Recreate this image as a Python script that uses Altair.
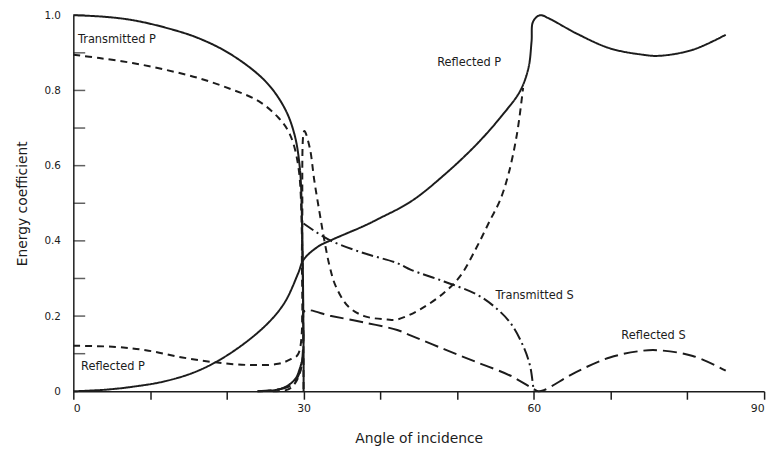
import altair as alt
import pandas as pd

# ---- data ----
tp_solid_x = [0, 4, 7.7, 12, 16.3, 20.6, 25, 27.5, 28.8, 29.5, 29.8, 30, 30]
tp_solid_y = [1.0, 0.996, 0.987, 0.967, 0.939, 0.895, 0.825, 0.754, 0.684, 0.596, 0.45, 0.1, 0.0]

tp_dash_x = [0, 3.4, 7.7, 12, 16.3, 20.6, 24.1, 26.7, 28.2, 29.3, 29.8, 30]
tp_dash_y = [0.895, 0.886, 0.873, 0.855, 0.833, 0.803, 0.772, 0.728, 0.684, 0.6, 0.4, 0.0]

rp_solid_x = [0, 4, 7.7, 12, 16.3, 20.6, 25, 27.5, 29.3, 30, 31.9, 33.6, 37.9, 39.6, 44,
              48.3, 52.6, 56, 58.2, 59.3, 59.7, 59.9, 60.8, 62.1, 65.5, 69.9, 74.2, 76.3, 80.7, 85]
rp_solid_y = [0.0, 0.004, 0.012, 0.027, 0.055, 0.103, 0.174, 0.235, 0.314, 0.35, 0.385, 0.402,
              0.44, 0.457, 0.505, 0.575, 0.658, 0.737, 0.798, 0.86, 0.93, 0.983, 1.0, 0.99,
              0.952, 0.912, 0.895, 0.892, 0.908, 0.948]

rp_dash_x = [0, 5.5, 9.8, 14.2, 18.5, 22.8, 26.7, 28.4, 29.3, 29.8, 30.1, 30.8, 31.4, 32.1,
             32.7, 33.4, 34.2, 35.8, 37.9, 40.9, 42.2, 45.2, 48.3, 50.4, 52.6, 54.3, 55.6,
             56.7, 57.8, 58.6]
rp_dash_y = [0.121, 0.118, 0.108, 0.09, 0.077, 0.07, 0.073, 0.086, 0.099, 0.4, 0.692, 0.648,
             0.56, 0.473, 0.402, 0.332, 0.279, 0.226, 0.2, 0.191, 0.191, 0.218, 0.262, 0.306,
             0.385, 0.455, 0.508, 0.578, 0.684, 0.807]

rs_x = [24, 26, 28, 29, 29.5, 29.8, 30, 30.1, 33.6, 37.9, 42.2, 44, 48.3, 52.6, 56.9, 59.9,
        60.6, 61.3, 65.5, 69.9, 74.2, 76.3, 80.7, 85]
rs_y = [0.0, 0.003, 0.012, 0.03, 0.05, 0.08, 0.15, 0.213, 0.2, 0.183, 0.163, 0.148, 0.112,
        0.077, 0.042, 0.007, 0.0, 0.003, 0.051, 0.09, 0.108, 0.109, 0.094, 0.055]

ts_x = [30, 33.4, 37.9, 42.2, 44, 48.3, 52.6, 54.8, 56.9, 58.6, 59.5, 59.9, 60]
ts_y = [0.446, 0.402, 0.367, 0.341, 0.323, 0.292, 0.257, 0.226, 0.183, 0.121, 0.068, 0.015, 0.0]

low_solid_x = [24, 26.5, 28, 29, 29.5, 29.8]
low_solid_y = [0.0, 0.004, 0.016, 0.035, 0.06, 0.08]

low_dash_x = [26, 28, 29, 29.6, 29.9]
low_dash_y = [0.0, 0.005, 0.025, 0.055, 0.09]

label_text = ["Transmitted P", "Reflected P", "Transmitted S", "Reflected S", "Reflected P"]
label_x = [0.6, 47.4, 55.0, 71.4, 1.0]
label_y = [0.935, 0.872, 0.252, 0.146, 0.065]

y_minor = [0.1, 0.2, 0.3, 0.4, 0.5, 0.6, 0.7, 0.8, 0.9, 1.0]
y_labels = [0, 0.2, 0.4, 0.6, 0.8, 1.0]
x_ticks = [0, 10, 20, 30, 40, 50, 60, 70, 80, 90]

# ---- build table ----
curves = [
    ("tp_solid", "solid", tp_solid_x, tp_solid_y),
    ("tp_dash", "dash", tp_dash_x, tp_dash_y),
    ("rp_solid", "solid", rp_solid_x, rp_solid_y),
    ("rp_dash", "dash", rp_dash_x, rp_dash_y),
    ("rs", "longdash", rs_x, rs_y),
    ("ts", "dashdot", ts_x, ts_y),
    ("low_solid", "solid", low_solid_x, low_solid_y),
    ("low_dash", "dash", low_dash_x, low_dash_y),
]
rows = []
for name, style, xs, ys in curves:
    for i, (a, v) in enumerate(zip(xs, ys)):
        rows.append({"curve": name, "style": style, "angle": a, "value": v, "i": i})
df = pd.DataFrame(rows)

labels_df = pd.DataFrame({"text": label_text, "angle": label_x, "value": label_y})
minor_df = pd.DataFrame({"value": y_minor})

FONT = "DejaVu Sans"
INK = "#1c1c1c"

xscale = alt.Scale(domain=[0, 90], nice=False, zero=False)
yscale = alt.Scale(domain=[0, 1], nice=False)

lines = alt.Chart(df).mark_line(strokeWidth=2, color=INK, strokeCap="butt",
                                interpolate="catmull-rom").encode(
    x=alt.X("angle:Q", scale=xscale,
            axis=alt.Axis(title="Angle of incidence", values=x_ticks,
                          labelExpr="datum.value % 30 == 0 ? datum.label : ''",
                          tickSize=8, tickWidth=1.5, tickColor=INK, domainColor=INK,
                          domainWidth=1.5, labelPadding=3, labelFont=FONT, labelFontSize=11,
                          labelColor=INK, titleFont=FONT, titleFontSize=14,
                          titleFontWeight="normal", titleColor=INK, titlePadding=19,
                          grid=False)),
    y=alt.Y("value:Q", scale=yscale,
            axis=alt.Axis(title="Energy coefficient", values=y_labels,
                          labelExpr="datum.value == 0 ? '0' : format(datum.value, '.1f')",
                          ticks=False, labelPadding=13, domainColor=INK, domainWidth=1.5,
                          labelFont=FONT, labelFontSize=10.5, labelColor=INK,
                          titleFont=FONT, titleFontSize=14, titleFontWeight="normal",
                          titleColor=INK, titlePadding=15, grid=False)),
    detail="curve:N",
    strokeDash=alt.StrokeDash("style:N",
                              scale=alt.Scale(domain=["solid", "dash", "longdash", "dashdot"],
                                              range=[[1, 0], [7, 5], [14, 6], [12, 4, 2, 4]]),
                              legend=None),
    order="i:Q",
)

minor = alt.Chart(minor_df).mark_tick(orient="horizontal", size=12, thickness=1.5,
                                      color=INK, xOffset=6).encode(
    y=alt.Y("value:Q", scale=yscale),
    x=alt.datum(0, scale=xscale),
)

texts = alt.Chart(labels_df).mark_text(align="left", baseline="middle", font=FONT,
                                       fontSize=11.5, color=INK).encode(
    x=alt.X("angle:Q", scale=xscale),
    y=alt.Y("value:Q", scale=yscale),
    text="text:N",
)

chart = alt.layer(lines, minor, texts).properties(
    width=698, height=380,
    autosize=alt.AutoSizeParams(type="none"),
    padding={"left": 66, "top": 5, "right": 11, "bottom": 55},
    background="white",
).configure_view(stroke=None)

chart.save("out.html", embed_options={"renderer": "svg", "actions": False})
